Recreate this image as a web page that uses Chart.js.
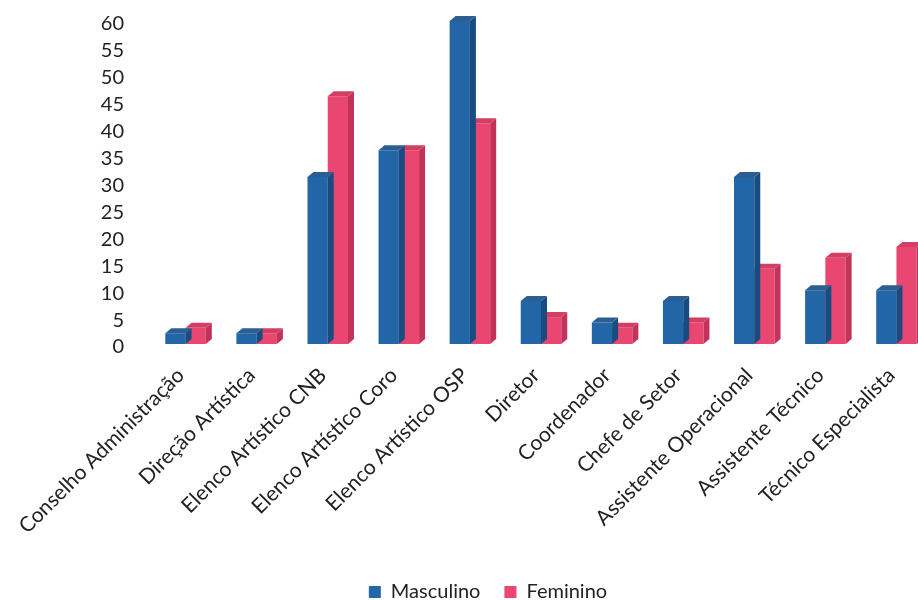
<!DOCTYPE html>
<html>
<head>
<meta charset="utf-8">
<script src="https://cdn.jsdelivr.net/npm/chart.js@4/dist/chart.umd.min.js"></script>
<style>
  html, body { margin: 0; padding: 0; background: #ffffff; overflow: hidden; }
  #wrap { position: relative; width: 935px; height: 600px; }
</style>
</head>
<body>
<div id="wrap"><canvas id="chart"></canvas></div>
<script>
// Categories and counts per gender
const categories = [
  'Conselho Administração',
  'Direção Artística',
  'Elenco Artístico CNB',
  'Elenco Artístico Coro',
  'Elenco Artístico OSP',
  'Diretor',
  'Coordenador',
  'Chefe de Setor',
  'Assistente Operacional',
  'Assistente Técnico',
  'Técnico Especialista'
];
const masculino = [2, 2, 31, 36, 60, 8, 4, 8, 31, 10, 10];
const feminino  = [3, 2, 46, 36, 41, 5, 3, 4, 14, 16, 18];
const seriesNames = ['Masculino', 'Feminino'];
const yTicks = [0, 5, 10, 15, 20, 25, 30, 35, 40, 45, 50, 55, 60];

const FONT = 'Lato, "Open Sans", "Liberation Sans", sans-serif';
const TEXT = '#222222';

const palette = {
  front: ['#2366A8', '#EA4672'],
  side:  ['#184C80', '#C2325A'],
  top:   ['#2C5E92', '#D33E63']
};

// Extrudes every bar with a right side face and a top face
const bars3d = {
  id: 'bars3d',
  afterDatasetDraw(chart, args) {
    const meta = args.meta;
    const i = args.index;
    const ctx = chart.ctx;
    const dx = 6, dy = 5;
    ctx.save();
    meta.data.forEach(bar => {
      const p = bar.getProps(['x', 'y', 'base', 'width'], true);
      const l = p.x - p.width / 2, r = p.x + p.width / 2;
      const t = Math.min(p.y, p.base), b = Math.max(p.y, p.base);
      // side
      ctx.fillStyle = palette.side[i];
      ctx.beginPath();
      ctx.moveTo(r, t);
      ctx.lineTo(r + dx, t - dy);
      ctx.lineTo(r + dx, b - dy);
      ctx.lineTo(r, b);
      ctx.closePath();
      ctx.fill();
      // top
      ctx.fillStyle = palette.top[i];
      ctx.beginPath();
      ctx.moveTo(l, t);
      ctx.lineTo(l + dx, t - dy);
      ctx.lineTo(r + dx, t - dy);
      ctx.lineTo(r, t);
      ctx.closePath();
      ctx.fill();
    });
    ctx.restore();
  }
};

new Chart(document.getElementById('chart'), {
  type: 'bar',
  data: {
    labels: categories,
    datasets: [
      { label: seriesNames[0], data: masculino, backgroundColor: palette.front[0], borderWidth: 0 },
      { label: seriesNames[1], data: feminino,  backgroundColor: palette.front[1], borderWidth: 0 }
    ]
  },
  options: {
    responsive: true,
    maintainAspectRatio: false,
    animation: false,
    layout: { padding: { left: 44, right: 3, top: 21, bottom: -12 } },
    datasets: { bar: { barPercentage: 1, categoryPercentage: 0.57 } },
    scales: {
      x: {
        grid: { display: false, drawTicks: false },
        border: { display: false },
        ticks: {
          color: TEXT,
          font: { family: FONT, size: 21 },
          minRotation: 45,
          maxRotation: 45,
          autoSkip: false,
          padding: 19,
          labelOffset: -5
        },
        afterFit(scale) { scale.height = 214; }
      },
      y: {
        min: 0,
        max: 60,
        grid: { display: false, drawTicks: false },
        border: { display: false },
        afterBuildTicks(scale) { scale.ticks = yTicks.map(v => ({ value: v })); },
        ticks: {
          color: TEXT,
          font: { family: FONT, size: 20 },
          padding: 26,
          labelOffset: 3,
          autoSkip: false
        },
        afterFit(scale) {
          scale.width = 106;
          scale.paddingTop = 0;
          scale.paddingBottom = 0;
        }
      }
    },
    plugins: {
      legend: {
        position: 'bottom',
        labels: {
          color: TEXT,
          font: { family: FONT, size: 20 },
          boxWidth: 12,
          boxHeight: 12,
          padding: 24
        }
      },
      tooltip: { enabled: false }
    }
  },
  plugins: [bars3d]
});
</script>
</body>
</html>
